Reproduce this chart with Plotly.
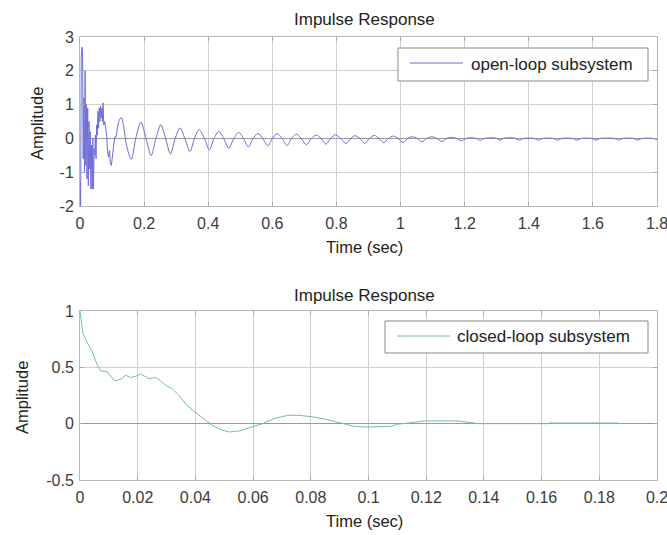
import plotly.graph_objects as go

# ---------------- data ----------------
# open-loop subsystem: early dense part
t_ol_early = [0.000, 0.002, 0.004, 0.006, 0.008, 0.010, 0.012, 0.014, 0.016, 0.018,
              0.020, 0.022, 0.024, 0.026, 0.028, 0.030, 0.032, 0.034, 0.036, 0.038,
              0.040, 0.042, 0.044, 0.046, 0.048, 0.050, 0.052, 0.054, 0.056, 0.058,
              0.060, 0.062, 0.064, 0.066, 0.068, 0.070, 0.072, 0.074, 0.077, 0.080,
              0.083, 0.086, 0.089, 0.092, 0.095, 0.098, 0.101, 0.105, 0.109, 0.113]
a_ol_early = [-1.3, -2.0, 2.4, 2.7, 2.6, -0.6, 1.2, -1.0, 2.0, -0.8,
              1.0, -1.2, 0.9, -1.4, 0.5, -0.9, 0.2, -1.5, -0.2, -1.5,
              0.0, -1.5, -0.3, -0.5, 0.1, -0.6, 0.4, 0.1, 0.8, 0.3,
              0.9, 0.5, 0.95, 0.6, 0.9, 0.5, 1.05, 0.4, 0.5, 0.35,
              0.1, -0.4, -0.55, -0.35, -0.75, -0.8, -0.5, -0.2, 0.05, 0.05]

# open-loop subsystem: decaying oscillation (peaks, troughs, crossings)
t_ol_late = [0.113, 0.121, 0.129, 0.137, 0.145, 0.160, 0.175, 0.190, 0.206, 0.222,
             0.237, 0.252, 0.267, 0.282, 0.297, 0.312, 0.327, 0.343, 0.357, 0.372,
             0.388, 0.404, 0.418, 0.433, 0.448, 0.464, 0.480, 0.495, 0.510, 0.525,
             0.540, 0.555, 0.570, 0.586, 0.600, 0.615, 0.630, 0.646, 0.660, 0.675,
             0.690, 0.706, 0.722, 0.737, 0.752, 0.767, 0.782, 0.797, 0.813, 0.830,
             0.844, 0.858, 0.873, 0.888, 0.903, 0.918, 0.933, 0.948, 0.962, 0.977,
             0.992, 1.008, 1.022, 1.037, 1.052, 1.067, 1.082, 1.098, 1.113, 1.129,
             1.144, 1.159, 1.174, 1.190, 1.205, 1.220,
             1.236, 1.249, 1.262, 1.296, 1.310, 1.324, 1.356, 1.370, 1.384, 1.416,
             1.430, 1.444, 1.476, 1.490, 1.504, 1.536, 1.550, 1.564, 1.596, 1.610,
             1.624, 1.666, 1.680, 1.694, 1.726, 1.740, 1.754, 1.786, 1.800]
a_ol_late = [0.05, 0.5, 0.62, 0.3, -0.2, -0.62, 0.05, 0.48, 0.0, -0.51,
             0.0, 0.41, 0.0, -0.46, 0.0, 0.31, 0.0, -0.39, 0.0, 0.26,
             0.0, -0.34, 0.0, 0.21, 0.0, -0.29, 0.0, 0.18, 0.0, -0.25,
             0.0, 0.15, 0.0, -0.22, 0.0, 0.14, 0.0, -0.21, 0.0, 0.13,
             0.0, -0.19, 0.0, 0.10, 0.0, -0.17, 0.0, 0.11, 0.0, -0.15,
             0.0, 0.08, 0.0, -0.15, 0.0, 0.09, 0.0, -0.13, 0.0, 0.07,
             0.0, -0.12, 0.0, 0.05, 0.0, -0.10, 0.0, 0.05, 0.0, -0.09,
             0.0, 0.03, 0.0, -0.07, 0.0, 0.02,
             0.0, -0.06, 0.0, 0.01, -0.05, 0.01, 0.01, -0.05, 0.0, 0.0,
             -0.05, 0.0, 0.0, -0.05, 0.0, 0.0, -0.05, 0.0, 0.0, -0.05,
             0.0, 0.0, -0.05, 0.0, 0.0, -0.05, 0.0, 0.0, -0.04]

# closed-loop subsystem
t_cl = [0.0, 0.001, 0.0025, 0.0042, 0.006, 0.0071, 0.0094, 0.0117, 0.0125, 0.0145,
        0.0158, 0.0175, 0.0193, 0.021, 0.0225, 0.0239, 0.0262, 0.0279, 0.0297, 0.032,
        0.0343, 0.0372, 0.0395, 0.043, 0.0459, 0.0488, 0.0516, 0.0551, 0.0592, 0.0632,
        0.0672, 0.0719, 0.0759, 0.0811, 0.0858, 0.0904, 0.095, 0.0997, 0.1043, 0.1077,
        0.110, 0.1135, 0.1193, 0.131, 0.138, 0.162, 0.163, 0.186, 0.187]
a_cl = [1.0, 0.80, 0.72, 0.64, 0.52, 0.47, 0.46, 0.39, 0.38, 0.40,
        0.43, 0.41, 0.42, 0.44, 0.42, 0.40, 0.41, 0.38, 0.34, 0.31,
        0.25, 0.16, 0.11, 0.044, -0.015, -0.053, -0.074, -0.065, -0.03, 0.0,
        0.044, 0.074, 0.074, 0.059, 0.035, 0.006, -0.024, -0.03, -0.03, -0.024,
        -0.006, 0.006, 0.024, 0.024, 0.0, 0.0, 0.006, 0.006, 0.0]

# tick labels
x1_ticks = [0, 0.2, 0.4, 0.6, 0.8, 1.0, 1.2, 1.4, 1.6, 1.8]
x1_text = ["0", "0.2", "0.4", "0.6", "0.8", "1", "1.2", "1.4", "1.6", "1.8"]
y1_ticks = [-2, -1, 0, 1, 2, 3]
y1_text = ["-2", "-1", "0", "1", "2", "3"]
x2_ticks = [0, 0.02, 0.04, 0.06, 0.08, 0.1, 0.12, 0.14, 0.16, 0.18, 0.2]
x2_text = ["0", "0.02", "0.04", "0.06", "0.08", "0.1", "0.12", "0.14", "0.16", "0.18", "0.2"]
y2_ticks = [-0.5, 0, 0.5, 1]
y2_text = ["-0.5", "0", "0.5", "1"]

titles = ["Impulse Response", "Impulse Response"]
xlabel = "Time (sec)"
ylabel = "Amplitude"
legend_names = ["open-loop subsystem", "closed-loop subsystem"]

# ---------------- style ----------------
C_OL = "#6e6ed8"
C_CL = "#72c293"
FONT = "Liberation Sans, Arial, Helvetica, sans-serif"
W, H = 667, 535
ML, MR, MT, MB = 80, 10, 37, 55
PW, PH = W - ML - MR, H - MT - MB


def px(x):
    return (x - ML) / PW


def py(y):
    return (H - MB - y) / PH


fig = go.Figure()
fig.add_trace(go.Scatter(x=t_ol_early, y=a_ol_early, mode="lines",
                         line=dict(color=C_OL, width=1), xaxis="x", yaxis="y",
                         showlegend=False, hoverinfo="skip"))
fig.add_trace(go.Scatter(x=t_ol_late, y=a_ol_late, mode="lines",
                         line=dict(color=C_OL, width=1, shape="spline", smoothing=0.8),
                         xaxis="x", yaxis="y", showlegend=False, hoverinfo="skip"))
fig.add_trace(go.Scatter(x=t_cl, y=a_cl, mode="lines",
                         line=dict(color=C_CL, width=1), xaxis="x2", yaxis="y2",
                         showlegend=False, hoverinfo="skip"))

axis_common = dict(showgrid=True, gridcolor="#d0d0d0", gridwidth=1,
                   showline=True, linecolor="#b8b8b8", linewidth=1, mirror="ticks",
                   ticks="inside", ticklen=4, tickcolor="#a8a8a8",
                   tickfont=dict(family=FONT, size=16, color="#3c3c3c"),
                   ticklabeloverflow="allow", automargin=False,
                   zeroline=False)
xaxis_extra = dict(ticklabelstandoff=3)
yaxis_extra = dict(ticklabelstandoff=2)

top_dom = [py(206), 1.0]
bot_dom = [0.0, py(311)]

fig.update_layout(
    width=W, height=H,
    margin=dict(l=ML, r=MR, t=MT, b=MB, pad=0, autoexpand=False),
    paper_bgcolor="white", plot_bgcolor="white",
    showlegend=False,
    xaxis=dict(axis_common, **xaxis_extra, domain=[0, 1], anchor="y", range=[0, 1.8],
               tickvals=x1_ticks, ticktext=x1_text),
    yaxis=dict(axis_common, **yaxis_extra, domain=top_dom, anchor="x", range=[-2, 3],
               tickvals=y1_ticks, ticktext=y1_text,
               zeroline=True, zerolinecolor="#9a9a9a", zerolinewidth=1),
    xaxis2=dict(axis_common, **xaxis_extra, domain=[0, 1], anchor="y2", range=[0, 0.2],
                tickvals=x2_ticks, ticktext=x2_text),
    yaxis2=dict(axis_common, **yaxis_extra, domain=bot_dom, anchor="x2", range=[-0.5, 1],
                tickvals=y2_ticks, ticktext=y2_text,
                zeroline=True, zerolinecolor="#9a9a9a", zerolinewidth=1),
)

ann = []
txt_dark = "#222222"
# titles
ann.append(dict(text=titles[0], x=px(364), y=py(20), xref="paper", yref="paper",
                showarrow=False, xanchor="center", yanchor="middle",
                font=dict(family=FONT, size=17, color=txt_dark)))
ann.append(dict(text=titles[1], x=px(364), y=py(295), xref="paper", yref="paper",
                showarrow=False, xanchor="center", yanchor="middle",
                font=dict(family=FONT, size=17, color=txt_dark)))
# x labels
ann.append(dict(text=xlabel, x=px(364), y=py(247), xref="paper", yref="paper",
                showarrow=False, xanchor="center", yanchor="middle",
                font=dict(family=FONT, size=16.5, color=txt_dark)))
ann.append(dict(text=xlabel, x=px(364), y=py(521), xref="paper", yref="paper",
                showarrow=False, xanchor="center", yanchor="middle",
                font=dict(family=FONT, size=16.5, color=txt_dark)))
# y labels
ann.append(dict(text=ylabel, x=px(37), y=py(124), xref="paper", yref="paper",
                showarrow=False, xanchor="center", yanchor="middle", textangle=-90,
                font=dict(family=FONT, size=16.5, color=txt_dark)))
ann.append(dict(text=ylabel, x=px(22), y=py(398), xref="paper", yref="paper",
                showarrow=False, xanchor="center", yanchor="middle", textangle=-90,
                font=dict(family=FONT, size=16.5, color=txt_dark)))
# legend texts
ann.append(dict(text=legend_names[0], x=px(469), y=py(64.5), xref="paper", yref="paper",
                showarrow=False, xanchor="left", yanchor="middle",
                font=dict(family=FONT, size=17, color=txt_dark)))
ann.append(dict(text=legend_names[1], x=px(455), y=py(337), xref="paper", yref="paper",
                showarrow=False, xanchor="left", yanchor="middle",
                font=dict(family=FONT, size=17, color=txt_dark)))

shapes = []
# legend boxes
shapes.append(dict(type="rect", xref="paper", yref="paper",
                   x0=px(398), x1=px(648), y0=py(81), y1=py(48),
                   line=dict(color="#8a8a8a", width=1), fillcolor="white", layer="above"))
shapes.append(dict(type="rect", xref="paper", yref="paper",
                   x0=px(385), x1=px(648), y0=py(353), y1=py(321),
                   line=dict(color="#8a8a8a", width=1), fillcolor="white", layer="above"))
# legend sample lines
shapes.append(dict(type="line", xref="paper", yref="paper",
                   x0=px(410), x1=px(463), y0=py(63), y1=py(63),
                   line=dict(color=C_OL, width=1), layer="above"))
shapes.append(dict(type="line", xref="paper", yref="paper",
                   x0=px(397), x1=px(450), y0=py(336), y1=py(336),
                   line=dict(color=C_CL, width=1), layer="above"))

fig.update_layout(annotations=ann, shapes=shapes)

fig.write_html("out.html",
               config={"displayModeBar": False, "staticPlot": True},
               post_script="document.body.style.margin='0px';"
                           "document.body.style.overflow='hidden';")
